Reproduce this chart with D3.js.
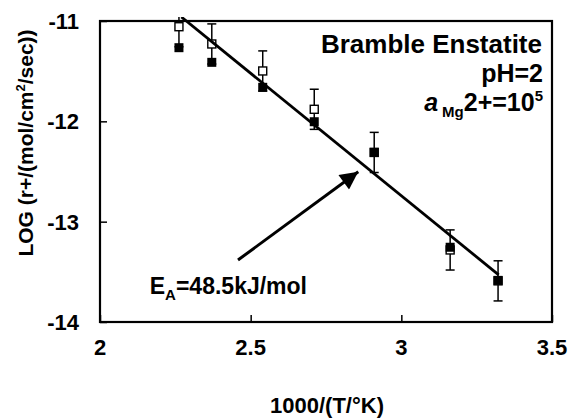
<!DOCTYPE html>
<html>
<head>
<meta charset="utf-8">
<script src="https://cdn.jsdelivr.net/npm/d3@7"></script>
<style>
  body { margin: 0; background: #fff; }
  svg text { font-family: "Liberation Sans", Arial, sans-serif; font-weight: bold; fill: #000; }
</style>
</head>
<body>
<script>
// data
var invT = [2.262, 2.371, 2.540, 2.711, 2.910, 3.162, 3.321];
var logRateOpen = [-11.057, -11.229, -11.498, -11.880, -12.31, -13.282, -13.59];
var logRateFilled = [-11.266, -11.412, -11.661, -12.004, -12.309, -13.255, -13.585];
var errOpen = [0.2, 0.2, 0.2, 0.2, 0.2, 0.2, 0.2];
var fitX = [2.27, 3.323];
var fitY = [-10.96, -13.53];
var arrowX = [2.458, 2.857];
var arrowY = [-13.382, -12.502];
var xTicks = [2, 2.5, 3, 3.5];
var yTicks = [-11, -12, -13, -14];

var width = 568, height = 420;
var margin = { top: 21, right: 16, bottom: 98, left: 100 };

var svg = d3.select("body").append("svg")
    .attr("width", width)
    .attr("height", height);

var x = d3.scaleLinear().domain([2, 3.5]).range([margin.left, width - margin.right]);
var y = d3.scaleLinear().domain([-14, -11]).range([height - margin.bottom, margin.top]);

// clip, a bit taller at the top like the original
svg.append("clipPath").attr("id", "clip")
  .append("rect")
    .attr("x", x(2)).attr("y", y(-11) - 4)
    .attr("width", x(3.5) - x(2)).attr("height", y(-14) - y(-11) + 4);

// axes with inward ticks, labels drawn separately
svg.append("g")
    .attr("transform", "translate(0," + y(-14) + ")")
    .call(d3.axisTop(x).tickValues(xTicks).tickSize(7).tickFormat(""))
    .call(function (g) { g.select(".domain").remove(); g.selectAll("line").attr("stroke-width", 1.5); });

svg.append("g")
    .attr("transform", "translate(" + x(2) + ",0)")
    .call(d3.axisRight(y).tickValues(yTicks).tickSize(7).tickFormat(""))
    .call(function (g) { g.select(".domain").remove(); g.selectAll("line").attr("stroke-width", 1.5); });

svg.append("rect")
    .attr("x", x(2)).attr("y", y(-11))
    .attr("width", x(3.5) - x(2)).attr("height", y(-14) - y(-11))
    .attr("fill", "none").attr("stroke", "#000").attr("stroke-width", 2.2);

svg.selectAll(".xlab").data(xTicks).enter().append("text")
    .attr("class", "xlab")
    .attr("x", function (d) { return x(d); })
    .attr("y", 355)
    .attr("text-anchor", "middle")
    .style("font-size", "22px")
    .text(function (d) { return d; });

svg.selectAll(".ylab").data(yTicks).enter().append("text")
    .attr("class", "ylab")
    .attr("x", 79)
    .attr("y", function (d) { return y(d) + 8; })
    .attr("text-anchor", "end")
    .style("font-size", "22px")
    .text(function (d) { return d; });

svg.append("text")
    .attr("x", x(2.75) + 1)
    .attr("y", 413)
    .attr("text-anchor", "middle")
    .style("font-size", "22px")
    .text("1000/(T/°K)");

var ytitle = svg.append("text")
    .attr("transform", "translate(33,143) rotate(-90)")
    .attr("text-anchor", "middle")
    .style("font-size", "21px");
ytitle.append("tspan").text("LOG (r+/(mol/cm");
ytitle.append("tspan").attr("dy", -8).style("font-size", "13px").text("2");
ytitle.append("tspan").attr("dy", 8).text("/sec))");

// marks
var plot = svg.append("g").attr("clip-path", "url(#clip)");

var pts = invT.map(function (d, i) {
    return { x: d, open: logRateOpen[i], filled: logRateFilled[i], err: errOpen[i] };
});

var eb = plot.selectAll(".err").data(pts).enter().append("g").attr("class", "err")
    .attr("stroke", "#000").attr("stroke-width", 1.5);
eb.append("line")
    .attr("x1", function (d) { return x(d.x); }).attr("x2", function (d) { return x(d.x); })
    .attr("y1", function (d) { return y(d.open + d.err); })
    .attr("y2", function (d) { return y(d.open - d.err); });
eb.append("line")
    .attr("x1", function (d) { return x(d.x) - 4.5; }).attr("x2", function (d) { return x(d.x) + 4.5; })
    .attr("y1", function (d) { return y(d.open + d.err); })
    .attr("y2", function (d) { return y(d.open + d.err); });
eb.append("line")
    .attr("x1", function (d) { return x(d.x) - 4.5; }).attr("x2", function (d) { return x(d.x) + 4.5; })
    .attr("y1", function (d) { return y(d.open - d.err); })
    .attr("y2", function (d) { return y(d.open - d.err); });

plot.selectAll(".open").data(pts).enter().append("rect")
    .attr("class", "open")
    .attr("x", function (d) { return x(d.x) - 4; })
    .attr("y", function (d) { return y(d.open) - 4; })
    .attr("width", 8).attr("height", 8)
    .attr("fill", "#fff").attr("stroke", "#000").attr("stroke-width", 1.4);

plot.selectAll(".filled").data(pts).enter().append("rect")
    .attr("class", "filled")
    .attr("x", function (d) { return x(d.x) - 4.5; })
    .attr("y", function (d) { return y(d.filled) - 4.5; })
    .attr("width", 9).attr("height", 9)
    .attr("fill", "#000");

// regression line
plot.append("line")
    .attr("x1", x(fitX[0])).attr("y1", y(fitY[0]))
    .attr("x2", x(fitX[1])).attr("y2", y(fitY[1]))
    .attr("stroke", "#000").attr("stroke-width", 2.8);

// arrow
svg.append("defs").append("marker")
    .attr("id", "head")
    .attr("viewBox", "0 0 10 10")
    .attr("refX", 10).attr("refY", 5)
    .attr("markerUnits", "userSpaceOnUse")
    .attr("markerWidth", 22).attr("markerHeight", 18)
    .attr("orient", "auto")
  .append("path")
    .attr("d", "M0,0L10,5L0,10Z")
    .attr("fill", "#000");

svg.append("line")
    .attr("x1", x(arrowX[0])).attr("y1", y(arrowY[0]))
    .attr("x2", x(arrowX[1])).attr("y2", y(arrowY[1]))
    .attr("stroke", "#000").attr("stroke-width", 3)
    .attr("marker-end", "url(#head)");

// annotations
var ea = svg.append("text")
    .attr("x", 307).attr("y", 294)
    .attr("text-anchor", "end")
    .style("font-size", "23px");
ea.append("tspan").text("E");
ea.append("tspan").attr("dy", 6).style("font-size", "15px").text("A");
ea.append("tspan").attr("dy", -6).text("=48.5kJ/mol");

svg.append("text")
    .attr("x", 542).attr("y", 53)
    .attr("text-anchor", "end")
    .style("font-size", "26px")
    .text("Bramble Enstatite");

svg.append("text")
    .attr("x", 543).attr("y", 82)
    .attr("text-anchor", "end")
    .style("font-size", "25px")
    .text("pH=2");

var act = svg.append("text")
    .attr("x", 543).attr("y", 111)
    .attr("text-anchor", "end")
    .style("font-size", "25px");
act.append("tspan").style("font-style", "italic").text("a");
act.append("tspan").attr("dx", 4).attr("dy", 6).style("font-size", "15px").text("Mg");
act.append("tspan").attr("dy", -6).text("2+=10");
act.append("tspan").attr("dy", -10).style("font-size", "15px").text("5");
</script>
</body>
</html>
